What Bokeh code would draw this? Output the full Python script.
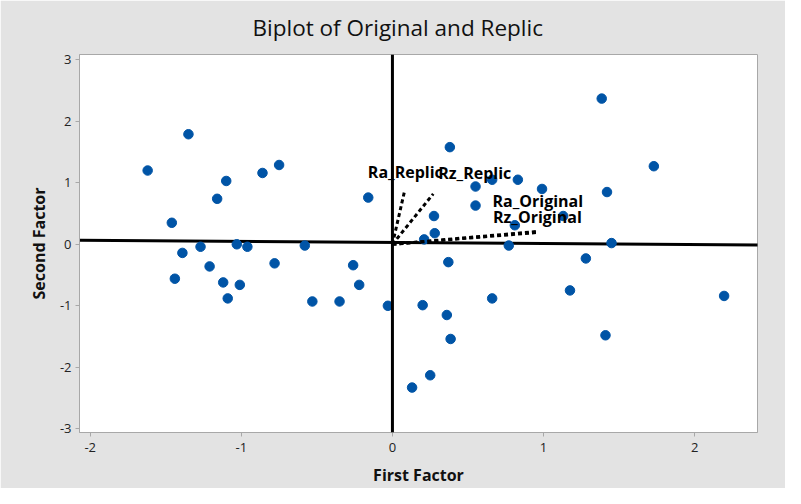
from bokeh.plotting import figure
from bokeh.models import ColumnDataSource, FixedTicker, Title, Span
from bokeh.core.properties import value
from bokeh.embed import file_html
from bokeh.resources import INLINE

# ---- data ----
score_x = [-1.62, -1.35, -1.46, -1.16, -1.10, -0.86, -0.75, -0.16,
           -1.39, -1.44, -1.27, -1.21, -1.12, -1.09, -1.03, -1.01,
           -0.96, -0.78, -0.58, -0.53, -0.35, -0.26, -0.22, -0.03,
           1.385, 0.38, 1.73, 0.55, 0.66, 0.83, 0.99, 1.42,
           0.55, 0.275, 1.13, 0.81, 0.28, 0.21, 0.77, 1.45,
           0.37, 1.28, 1.175, 2.195, 0.66, 0.20, 0.36, 0.385,
           1.41, 0.25, 0.13]
score_y = [1.20, 1.79, 0.35, 0.74, 1.03, 1.16, 1.29, 0.76,
           -0.14, -0.56, -0.04, -0.36, -0.62, -0.88, 0.00, -0.66,
           -0.04, -0.31, -0.02, -0.93, -0.93, -0.34, -0.66, -1.00,
           2.37, 1.58, 1.27, 0.94, 1.05, 1.05, 0.90, 0.85,
           0.63, 0.46, 0.46, 0.31, 0.18, 0.08, -0.02, 0.02,
           -0.29, -0.23, -0.75, -0.84, -0.88, -0.99, -1.15, -1.54,
           -1.48, -2.13, -2.33]

vec_names = ["Ra_Replic", "Rz_Replic", "Ra_Original", "Rz_Original"]
vec_x = [0.082, 0.27, 0.96, 0.95]
vec_y = [0.885, 0.82, 0.21, 0.19]

ref_h_x = [-2.07, 2.42]
ref_h_y = [0.065, -0.01]

x_ticks = [-2, -1, 0, 1, 2]
y_ticks = [-3, -2, -1, 0, 1, 2, 3]

title_text = "Biplot of Original and Replic"
x_label = "First Factor"
y_label = "Second Factor"

FONT = "Open Sans"

p = figure(width=785, height=488, x_range=(-2.071, 2.416), y_range=(-3.061, 3.087),
           output_backend="svg", toolbar_location=None,
           min_border_left=79, min_border_right=28, min_border_top=54, min_border_bottom=55)

p.title = Title(text=title_text, align="left", vertical_align="top", text_font=FONT,
                text_font_size="22.5px", text_font_style="normal", text_color="#111111",
                standoff=20, offset=173)

p.border_fill_color = "#e3e3e3"
p.background_fill_color = "white"
p.outline_line_color = "#a8a8a8"
p.xgrid.visible = False
p.ygrid.visible = False

for ax in (p.xaxis[0], p.yaxis[0]):
    ax.axis_line_color = "#a8a8a8"
    ax.major_tick_line_color = "#a8a8a8"
    ax.major_tick_out = 4
    ax.major_tick_in = 0
    ax.minor_tick_line_color = None
    ax.major_label_text_font = FONT
    ax.major_label_text_font_size = "13px"
    ax.major_label_text_color = "#222222"
    ax.axis_label_text_font = FONT
    ax.axis_label_text_font_size = "16px"
    ax.axis_label_text_font_style = "bold"
    ax.axis_label_text_color = "#111111"

p.xaxis.ticker = FixedTicker(ticks=x_ticks)
p.yaxis.ticker = FixedTicker(ticks=y_ticks)
p.xaxis.major_label_overrides = {t: str(t) for t in x_ticks}
p.yaxis.major_label_overrides = {t: str(t) for t in y_ticks}
p.xaxis.axis_label = x_label
p.yaxis.axis_label = y_label
p.xaxis.major_label_standoff = 6
p.xaxis.axis_label_standoff = 9
p.yaxis.major_label_standoff = 4
p.yaxis.axis_label_standoff = 7

# reference lines
p.line(ref_h_x, ref_h_y, line_color="black", line_width=3)
p.add_layout(Span(location=0, dimension="height", line_color="black", line_width=3))

# scores
p.scatter(score_x, score_y, size=9.5, fill_color="#0054a6", line_color="#0054a6")

# loading vectors
vsrc = ColumnDataSource(dict(
    x0=[0.0] * len(vec_x), y0=[0.0] * len(vec_y), x1=vec_x, y1=vec_y, name=vec_names,
    xo=[-37, 5, -45, -43], yo=[-18, -21, -30, -16]))
p.segment(x0="x0", y0="y0", x1="x1", y1="y1", source=vsrc, line_color="black",
          line_width=3, line_dash="4 3")
p.text(x="x1", y="y1", text="name", source=vsrc, x_offset="xo", y_offset="yo",
       text_font=value(FONT), text_font_size="16px", text_font_style="bold",
       text_align="left", text_baseline="middle", text_color="black")

open("out.html", "w").write(file_html(p, INLINE))
